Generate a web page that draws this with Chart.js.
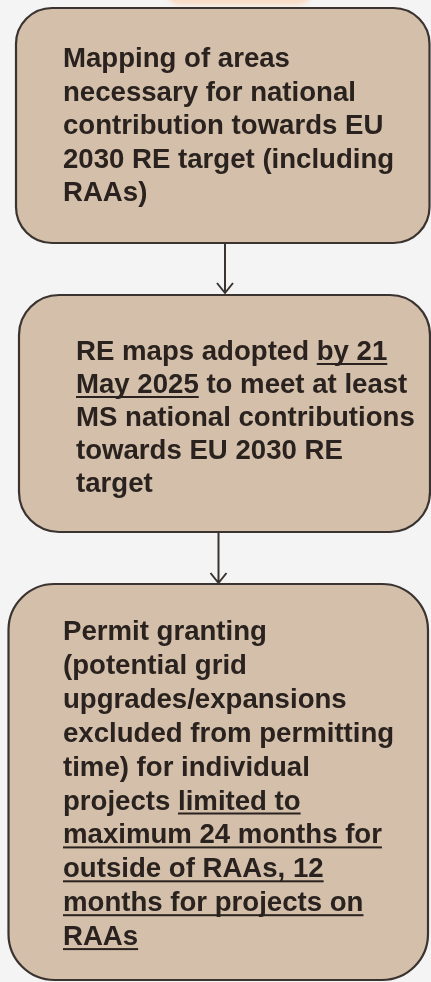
<!DOCTYPE html>
<html>
<head>
<meta charset="utf-8">
<script src="https://cdn.jsdelivr.net/npm/chart.js@4"></script>
<style>
html,body{margin:0;padding:0;background:#f4f4f4;}
canvas{display:block;}
</style>
</head>
<body>
<canvas id="c" width="431" height="982"></canvas>
<script>
// ---- data: flowchart steps (text lines, with underlined segments marked by true) ----
const step1Lines = [
  [["Mapping of areas", false]],
  [["necessary for national", false]],
  [["contribution towards EU", false]],
  [["2030 RE target (including", false]],
  [["RAAs)", false]]
];
const step2Lines = [
  [["RE maps adopted ", false], ["by 21", true]],
  [["May 2025", true], [" to meet at least", false]],
  [["MS national contributions", false]],
  [["towards EU 2030 RE", false]],
  [["target", false]]
];
const step3Lines = [
  [["Permit granting", false]],
  [["(potential grid", false]],
  [["upgrades/expansions", false]],
  [["excluded from permitting", false]],
  [["time) for individual", false]],
  [["projects ", false], ["limited to", true]],
  [["maximum 24 months for", true]],
  [["outside of RAAs, 12", true]],
  [["months for projects on", true]],
  [["RAAs", true]]
];
const steps = [step1Lines, step2Lines, step3Lines];

// ---- layout (positions/sizes in scale units, y downward) ----
const layout = {
  boxes: [
    {x0: 16, x1: 429.5, y0: 8,   y1: 243, r: 36, tx: 63, ty: 67,  lh: 33.6},
    {x0: 19, x1: 430,   y0: 295, y1: 532, r: 40, tx: 76, ty: 360, lh: 33},
    {x0: 8.5, x1: 428,  y0: 584, y1: 980, r: 46, tx: 63, ty: 640, lh: 33.9}
  ],
  arrows: [
    {x: 225, y0: 244, y1: 293},
    {x: 218.5, y0: 533, y1: 583}
  ]
};

const style = {
  bg: '#f4f4f4',
  fill: '#d3bfaa',
  border: '#3a3330',
  text: '#2a221e',
  font: 'bold 27.6px "Liberation Sans", Arial, sans-serif'
};

const flowPlugin = {
  id: 'flow',
  beforeDraw(chart) {
    const {ctx, scales: {x, y}} = chart;
    ctx.save();
    ctx.fillStyle = style.bg;
    ctx.fillRect(0, 0, chart.width, chart.height);
    // faint peach shape of previous step peeking at top
    ctx.filter = 'blur(2px)';
    ctx.fillStyle = '#f8dcc6';
    ctx.beginPath();
    ctx.roundRect(x.getPixelForValue(166), y.getPixelForValue(-30), x.getPixelForValue(312) - x.getPixelForValue(166), 35, 14);
    ctx.fill();
    ctx.filter = 'none';
    ctx.restore();
  },
  afterDatasetsDraw(chart) {
    const {ctx, scales: {x, y}} = chart;
    ctx.save();
    layout.boxes.forEach((b, i) => {
      const px0 = x.getPixelForValue(b.x0), px1 = x.getPixelForValue(b.x1);
      const py0 = y.getPixelForValue(b.y0), py1 = y.getPixelForValue(b.y1);
      ctx.beginPath();
      ctx.roundRect(px0, py0, px1 - px0, py1 - py0, b.r);
      ctx.fillStyle = style.fill;
      ctx.fill();
      ctx.lineWidth = 2.2;
      ctx.strokeStyle = style.border;
      ctx.stroke();
      // text
      ctx.font = style.font;
      ctx.fillStyle = style.text;
      ctx.textBaseline = 'alphabetic';
      ctx.textAlign = 'left';
      steps[i].forEach((line, li) => {
        let cx = x.getPixelForValue(b.tx);
        const by = y.getPixelForValue(b.ty + li * b.lh);
        line.forEach(([seg, ul]) => {
          const w = ctx.measureText(seg).width;
          ctx.fillText(seg, cx, by);
          if (ul) {
            ctx.fillRect(cx, by + 3, w, 2);
          }
          cx += w;
        });
      });
    });
    // arrows
    ctx.strokeStyle = style.border;
    ctx.lineWidth = 2;
    layout.arrows.forEach(a => {
      const ax = x.getPixelForValue(a.x);
      const a0 = y.getPixelForValue(a.y0), a1 = y.getPixelForValue(a.y1);
      ctx.beginPath();
      ctx.moveTo(ax, a0);
      ctx.lineTo(ax, a1);
      ctx.moveTo(ax - 8, a1 - 10);
      ctx.lineTo(ax, a1);
      ctx.lineTo(ax + 8, a1 - 10);
      ctx.stroke();
    });
    ctx.restore();
  }
};

new Chart(document.getElementById('c'), {
  type: 'scatter',
  data: {
    datasets: [{
      data: layout.boxes.map(b => ({x: (b.x0 + b.x1) / 2, y: (b.y0 + b.y1) / 2})),
      pointRadius: 0
    }]
  },
  options: {
    responsive: false,
    animation: false,
    layout: {padding: 0},
    plugins: {legend: {display: false}, tooltip: {enabled: false}},
    scales: {
      x: {type: 'linear', min: 0, max: 431, display: false},
      y: {type: 'linear', min: 0, max: 982, reverse: true, display: false}
    }
  },
  plugins: [flowPlugin]
});
</script>
</body>
</html>
